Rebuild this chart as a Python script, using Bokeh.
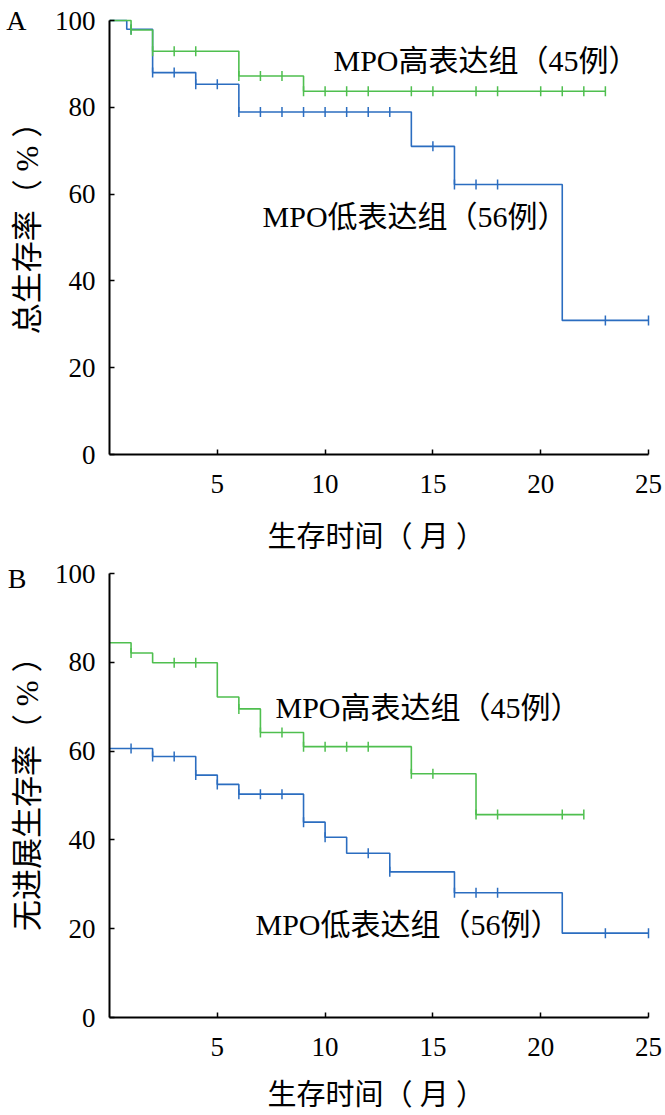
import math
from bokeh.plotting import figure
from bokeh.layouts import column
from bokeh.models import Range1d, FixedTicker, Label, LinearAxis
from bokeh.embed import file_html
from bokeh.resources import INLINE

# ---------------- data ----------------
# Panel A: overall survival
a_high_t = [0, 1, 2, 6, 9, 23]
a_high_s = [100, 97.8, 92.9, 87.2, 83.7, 83.7]
a_high_cens = [1, 2, 3, 4, 6, 7, 8, 9, 10, 11, 12, 14, 15, 17, 18, 20, 21, 22, 23]

a_low_t = [0, 0.8, 2, 4, 6, 14, 16, 21, 25]
a_low_s = [100, 98.0, 88.0, 85.3, 78.9, 71.0, 62.2, 30.9, 30.9]
a_low_cens = [1, 2, 3, 4, 5, 6, 7, 8, 9, 10, 11, 12, 13, 15, 16, 17, 18, 23, 25]

# Panel B: progression-free survival
b_high_t = [0, 1, 2, 5, 6, 7, 9, 14, 17, 22]
b_high_s = [84.4, 82.1, 79.9, 72.2, 69.5, 64.2, 61.0, 54.9, 45.7, 45.7]
b_high_cens = [1, 3, 4, 6, 7, 8, 9, 10, 11, 12, 14, 15, 17, 18, 21, 22]

b_low_t = [0, 2, 4, 5, 6, 9, 10, 11, 13, 16, 21, 25]
b_low_s = [60.6, 58.8, 54.6, 52.5, 50.3, 44.0, 40.6, 37.0, 32.8, 28.1, 19.0, 19.0]
b_low_cens = [1, 2, 3, 4, 5, 6, 7, 8, 9, 10, 12, 13, 16, 17, 18, 23, 25]

x_ticks = [5, 10, 15, 20, 25]
y_ticks = [0, 20, 40, 60, 80, 100]

label_high = "MPO高表达组（45例）"
label_low = "MPO低表达组（56例）"
x_title = "生存时间（ 月 ）\u3000"
y_title_a = "\u3000总生存率（ % ）"
y_title_b = "\u2002无进展生存率（ % ）"

GREEN = "#4fbf4f"
BLUE = "#2b6dc0"
SERIF = "Liberation Serif, Noto Sans CJK SC"


def level_at(t, times, surv):
    lv = surv[0]
    for ti, si in zip(times, surv):
        if ti <= t:
            lv = si
    return lv


def panel(height, top, bottom, frame_h, y_per, x_lab_standoff,
          series, ytitle, letter, labels):
    x_end = 25 * 548 / 539.0
    y_end = frame_h / y_per
    p = figure(width=665, height=height,
               x_range=Range1d(0, x_end), y_range=Range1d(0, y_end),
               output_backend="svg", toolbar_location=None,
               min_border_left=109, min_border_right=8,
               min_border_top=top, min_border_bottom=bottom)
    p.outline_line_color = None
    p.xgrid.visible = False
    p.ygrid.visible = False
    p.background_fill_color = "white"
    p.border_fill_color = "white"

    for ax, ticks in ((p.xaxis[0], x_ticks), (p.yaxis[0], y_ticks)):
        ax.ticker = FixedTicker(ticks=ticks)
        ax.axis_line_width = 2
        ax.axis_line_color = "black"
        ax.major_tick_line_width = 1.5
        ax.major_tick_line_color = "black"
        ax.major_tick_in = 5
        ax.major_tick_out = 0
        ax.minor_tick_line_color = None
        ax.major_label_text_font = SERIF
        ax.major_label_text_font_size = "27px"
        ax.major_label_text_color = "black"
        ax.axis_label_text_font = SERIF
        ax.axis_label_text_font_style = "normal"
        ax.axis_label_text_color = "black"
    p.xaxis[0].major_label_standoff = 20
    p.yaxis[0].major_label_standoff = 14
    p.xaxis[0].bounds = (0, 25)
    p.yaxis[0].bounds = (0, 100)
    p.xaxis[0].axis_label = x_title
    p.xaxis[0].axis_label_text_font_size = "29px"
    p.xaxis[0].axis_label_standoff = x_lab_standoff
    p.yaxis[0].axis_label = ytitle
    p.yaxis[0].axis_label_text_font_size = "31px"
    p.yaxis[0].axis_label_standoff = 7

    # panel letter: an outer, line-less axis whose only tick label is the letter
    lax = LinearAxis(ticker=FixedTicker(ticks=[100]),
                     major_label_overrides={100: letter},
                     axis_line_color=None, major_tick_line_color=None,
                     minor_tick_line_color=None, major_tick_in=0,
                     major_tick_out=0, major_label_standoff=-20,
                     major_label_text_font=SERIF,
                     major_label_text_font_size="28px",
                     major_label_text_color="black")
    p.add_layout(lax, "left")

    for times, surv, cens, color in series:
        p.step(times, surv, mode="after", line_color=color, line_width=1.6)
        cy = [level_at(c, times, surv) for c in cens]
        p.scatter(cens, cy, marker="dash", angle=math.pi / 2, size=10,
                  line_color=color, line_width=1.5)

    for txt, x, y in labels:
        p.add_layout(Label(x=x, y=y, text=txt, text_font=SERIF,
                           text_font_size="30px", text_color="black",
                           text_align="left", text_baseline="middle"))
    return p


pA = panel(560, 17, 106, 437, 4.34, 25,
           [(a_low_t, a_low_s, a_low_cens, BLUE),
            (a_high_t, a_high_s, a_high_cens, GREEN)],
           y_title_a, "A",
           [(label_high, 10.39, 90.8), (label_low, 7.10, 54.8)])

pB = panel(555, 10, 98, 447, 4.44, 20,
           [(b_low_t, b_low_s, b_low_cens, BLUE),
            (b_high_t, b_high_s, b_high_cens, GREEN)],
           y_title_b, "B",
           [(label_high, 7.70, 69.9), (label_low, 6.77, 20.9)])

layout = column(pA, pB)
open("out.html", "w").write(file_html(layout, INLINE))
